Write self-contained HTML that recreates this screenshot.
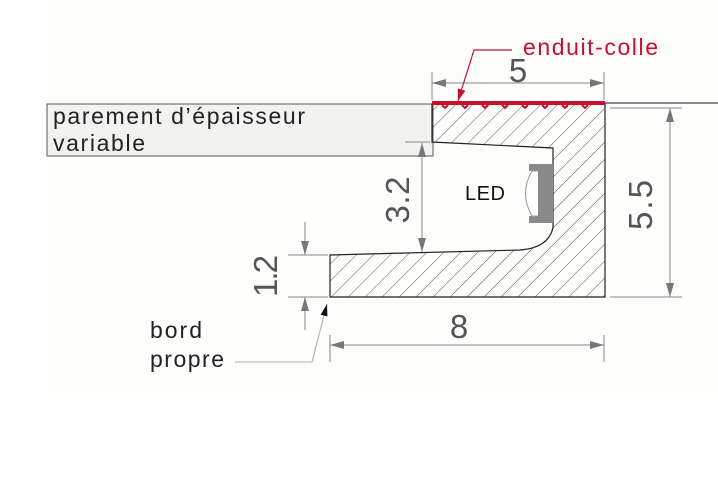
<!DOCTYPE html><html><head><style>body{margin:0;background:#fff}svg{display:block}text{font-family:"Liberation Sans",sans-serif}</style></head><body>
<svg width="718" height="495" viewBox="0 0 718 495" xmlns="http://www.w3.org/2000/svg">
<defs>
<pattern id="h" width="12" height="12" patternUnits="userSpaceOnUse" patternTransform="rotate(45)">
<line x1="0" y1="0" x2="0" y2="12" stroke="#444" stroke-width="0.9"/></pattern>
<marker id="a" markerWidth="14" markerHeight="8" refX="14" refY="4" orient="auto-start-reverse" markerUnits="userSpaceOnUse"><path d="M0,0L14,4L0,8z" fill="#777"/></marker>
<marker id="r" markerWidth="12" markerHeight="8" refX="12" refY="4" orient="auto" markerUnits="userSpaceOnUse"><path d="M0,0L12,4L0,8z" fill="#c8102e"/></marker>
<marker id="k" markerWidth="12" markerHeight="7" refX="12" refY="3.5" orient="auto" markerUnits="userSpaceOnUse"><path d="M0,0L12,3.5L0,7z" fill="#111"/></marker>
</defs>
<rect x="47" y="0" width="671" height="392" fill="#fdfdfc"/>
<rect x="47" y="104" width="386" height="52" fill="#f2f2f0" stroke="#555" stroke-width="1"/>
<line x1="432" y1="103" x2="718" y2="103" stroke="#444" stroke-width="1.2"/>
<path d="M432,104H605V297H330V255L520,250Q548,248 553,228V148L432,142Z" fill="url(#h)" stroke="#222" stroke-width="1.2"/>
<rect x="432" y="101" width="173" height="4" fill="#c8102e"/>
<path d="M442,105l3,3 3,-3M462,105l3,3 3,-3M482,105l3,3 3,-3M502,105l3,3 3,-3M522,105l3,3 3,-3M542,105l3,3 3,-3M562,105l3,3 3,-3M582,105l3,3 3,-3" stroke="#c8102e" stroke-width="2" fill="none"/>
<path d="M529,164H553V223H529V216H538V171H529Z" fill="#8a8a8a"/>
<path d="M538,171H532Q519,193 532,216H538" fill="#fff" stroke="#999" stroke-width="1"/>
<text x="465" y="200" font-size="20" fill="#111" textLength="40">LED</text>
<g stroke="#888" stroke-width="1" fill="none">
<line x1="432" y1="72" x2="432" y2="100"/><line x1="604" y1="72" x2="604" y2="100"/>
<line x1="432" y1="83" x2="604" y2="83" marker-start="url(#a)" marker-end="url(#a)"/>
<line x1="610" y1="108" x2="682" y2="108"/><line x1="610" y1="297" x2="682" y2="297"/>
<line x1="670" y1="108" x2="670" y2="297" marker-start="url(#a)" marker-end="url(#a)"/>
<line x1="405" y1="142" x2="430" y2="142"/>
<line x1="422" y1="143" x2="422" y2="252" marker-start="url(#a)" marker-end="url(#a)"/>
<line x1="288" y1="255" x2="328" y2="255"/><line x1="288" y1="297" x2="328" y2="297"/>
<line x1="305" y1="222" x2="305" y2="255" marker-end="url(#a)"/>
<line x1="305" y1="330" x2="305" y2="297" marker-end="url(#a)"/>
<line x1="330" y1="335" x2="330" y2="362"/><line x1="604" y1="335" x2="604" y2="362"/>
<line x1="330" y1="345" x2="604" y2="345" marker-start="url(#a)" marker-end="url(#a)"/>
<path d="M235,362H312L327,304" stroke="#aaa" marker-end="url(#k)"/>
</g>
<path d="M512,50H474L458,101" stroke="#c8102e" stroke-width="1.2" fill="none" marker-end="url(#r)"/>
<g fill="#555" font-size="33">
<text x="518" y="82" text-anchor="middle">5</text>
<text x="459" y="338" text-anchor="middle">8</text>
<text transform="translate(652,205) rotate(-90)" text-anchor="middle" textLength="50">5.5</text>
<text transform="translate(409,200) rotate(-90)" text-anchor="middle" textLength="47">3.2</text>
<text transform="translate(277,276) rotate(-90)" text-anchor="middle" textLength="42">1.2</text>
</g>
<text x="523" y="55" font-size="23" fill="#c8102e" textLength="135">enduit-colle</text>
<g font-size="23" fill="#222">
<text x="53" y="124" textLength="252">parement d’épaisseur</text>
<text x="53" y="151" textLength="92">variable</text>
<text x="150" y="338" textLength="52">bord</text>
<text x="150" y="367" textLength="74">propre</text>
</g>
</svg></body></html>
